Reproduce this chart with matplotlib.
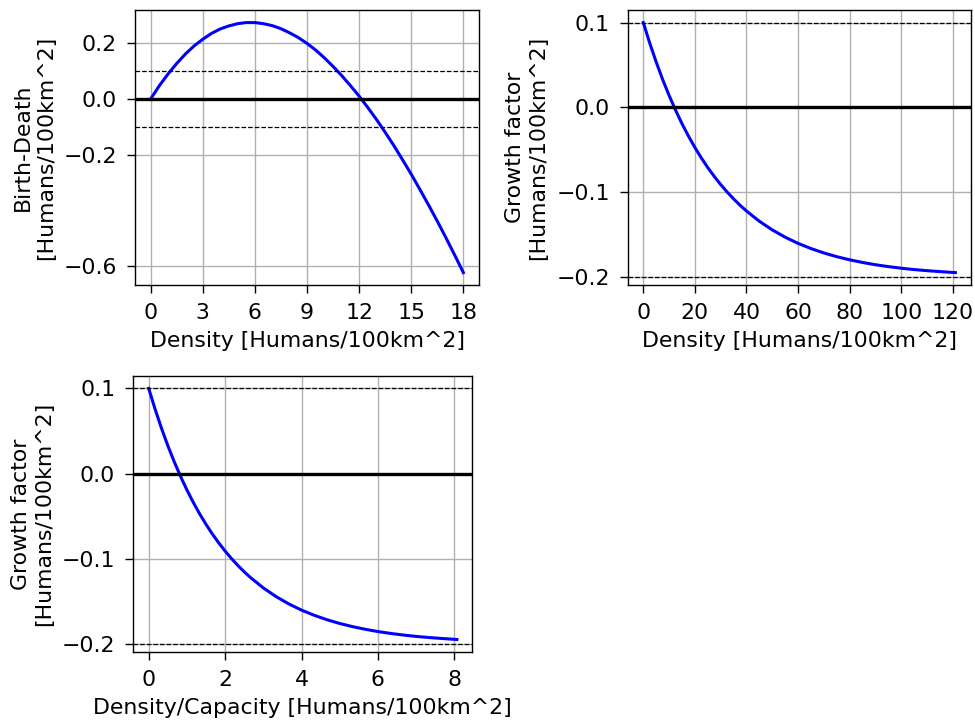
import numpy as np
import matplotlib
matplotlib.use('Agg')
import matplotlib.pyplot as plt

plt.rcParams['font.size'] = 15.8
plt.rcParams['xtick.major.size'] = 5.5
plt.rcParams['ytick.major.size'] = 5.5
plt.rcParams['xtick.major.pad'] = 7.5
plt.rcParams['ytick.major.pad'] = 7.5
plt.rcParams['xtick.major.width'] = 1.0
plt.rcParams['ytick.major.width'] = 1.0
plt.rcParams['axes.linewidth'] = 1.0
plt.rcParams['grid.linewidth'] = 1.0
plt.rcParams['axes.labelpad'] = 5.5

# Birth - death rate vs density
bd_density = [0, 0.5, 1, 1.5, 2, 2.5, 3, 3.5, 4, 4.5, 5, 5.5, 6, 6.5, 7, 7.5, 8, 8.5,
              9, 9.5, 10, 10.5, 11, 11.5, 12, 12.5, 13, 13.5, 14, 14.5, 15, 15.5,
              16, 16.5, 17, 17.5, 18]
birth_death = [0.0, 0.048, 0.090, 0.128, 0.162, 0.191, 0.215, 0.236, 0.252, 0.263,
               0.271, 0.275, 0.275, 0.271, 0.264, 0.253, 0.238, 0.221, 0.200, 0.176,
               0.148, 0.117, 0.084, 0.048, 0.010, -0.031, -0.074, -0.120, -0.168,
               -0.219, -0.271, -0.326, -0.382, -0.440, -0.500, -0.562, -0.625]

# Growth factor vs density
gf_density = [0, 2.5, 5, 7.5, 10, 12.5, 15, 17.5, 20, 22.5, 25, 27.5, 30, 32.5, 35,
              37.5, 40, 45, 50, 55, 60, 65, 70, 75, 80, 85, 90, 95, 100, 105, 110,
              115, 121]
growth = [0.1000, 0.0757, 0.0534, 0.0328, 0.0140, -0.0033, -0.0193, -0.0339,
          -0.0474, -0.0597, -0.0711, -0.0815, -0.0911, -0.0999, -0.1080, -0.1155,
          -0.1223, -0.1344, -0.1446, -0.1532, -0.1605, -0.1666, -0.1718, -0.1762,
          -0.1799, -0.1830, -0.1857, -0.1879, -0.1898, -0.1914, -0.1927, -0.1938,
          -0.1950]

capacity = 15
ratio = np.array(gf_density) / capacity

ylab_gf = 'Growth factor\n[Humans/100km^2]'

fig = plt.figure(figsize=(9.75, 7.2), dpi=100)

# top left
ax1 = fig.add_axes([0.1385, 0.604, 0.3528, 0.382])
ax1.plot(bd_density, birth_death, color='blue', lw=2.2)
ax1.axhline(0, color='black', lw=2.4)
ax1.axhline(0.1, color='black', ls='--', lw=0.9)
ax1.axhline(-0.1, color='black', ls='--', lw=0.9)
ax1.set_xticks([0, 3, 6, 9, 12, 15, 18])
ax1.set_yticks([0.2, 0.0, -0.2, -0.6])
ax1.grid(True)
ax1.set_xlabel('Density [Humans/100km^2]')
ax1.set_ylabel('Birth-Death\n[Humans/100km^2]')

# top right
ax2 = fig.add_axes([0.6438, 0.604, 0.3521, 0.382])
ax2.plot(gf_density, growth, color='blue', lw=2.2)
ax2.axhline(0, color='black', lw=2.4)
ax2.axhline(0.1, color='black', ls='--', lw=0.9)
ax2.axhline(-0.2, color='black', ls='--', lw=0.9)
ax2.set_xticks([0, 20, 40, 60, 80, 100, 120])
ax2.set_yticks([0.1, 0.0, -0.1, -0.2])
ax2.grid(True)
ax2.set_xlabel('Density [Humans/100km^2]')
ax2.set_ylabel(ylab_gf)

# bottom left
ax3 = fig.add_axes([0.1367, 0.0944, 0.3477, 0.3836])
ax3.plot(ratio, growth, color='blue', lw=2.2)
ax3.axhline(0, color='black', lw=2.4)
ax3.axhline(0.1, color='black', ls='--', lw=0.9)
ax3.axhline(-0.2, color='black', ls='--', lw=0.9)
ax3.set_xticks([0, 2, 4, 6, 8])
ax3.set_yticks([0.1, 0.0, -0.1, -0.2])
ax3.grid(True)
ax3.set_xlabel('Density/Capacity [Humans/100km^2]')
ax3.set_ylabel(ylab_gf)

fig.savefig('out.png', dpi=100)
